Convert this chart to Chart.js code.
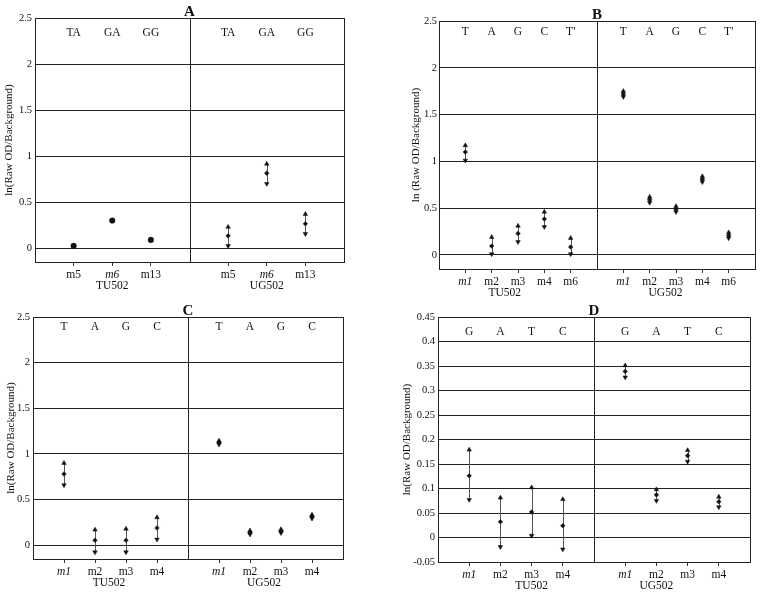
<!DOCTYPE html>
<html>
<head>
<meta charset="utf-8">
<script src="https://cdn.jsdelivr.net/npm/chart.js@4.4.0/dist/chart.umd.min.js"></script>
<style>
  body { margin: 0; background: #fff; width: 763px; height: 597px; position: relative; overflow: hidden; }
  canvas { position: absolute; }
</style>
</head>
<body>
<canvas id="cA" width="380" height="292" style="left:0;top:0"></canvas>
<canvas id="cB" width="383" height="299" style="left:380px;top:0"></canvas>
<canvas id="cC" width="380" height="302" style="left:0;top:295px"></canvas>
<canvas id="cD" width="383" height="302" style="left:380px;top:295px"></canvas>
<script>
// ---- data ----
const groups = ['TU502', 'UG502'];
const yTicksABC = [0, 0.5, 1, 1.5, 2, 2.5];
const yTicksD = [-0.05, 0, 0.05, 0.1, 0.15, 0.2, 0.25, 0.3, 0.35, 0.4, 0.45];

// A
const labelsA = ['m5', 'm6', 'm13'];
const lettersA = ['TA', 'GA', 'GG'];
const tuMeanA = [0.025, 0.30, 0.09];
const tuLowA = [null, null, null];
const tuHighA = [null, null, null];
const ugMeanA = [0.134, 0.815, 0.265];
const ugLowA = [0.025, 0.70, 0.155];
const ugHighA = [0.23, 0.915, 0.37];

// B
const labelsB = ['m1', 'm2', 'm3', 'm4', 'm6'];
const lettersB = ['T', 'A', 'G', 'C', "T'"];
const tuMeanB = [1.10, 0.095, 0.23, 0.385, 0.085];
const tuLowB = [1.01, 0.01, 0.14, 0.30, 0.01];
const tuHighB = [1.17, 0.19, 0.31, 0.46, 0.18];
const ugMeanB = [1.72, 0.59, 0.49, 0.81, 0.21];
const ugLowB = [1.69, 0.56, 0.46, 0.78, 0.18];
const ugHighB = [1.75, 0.62, 0.52, 0.84, 0.24];

// C
const labelsC = ['m1', 'm2', 'm3', 'm4'];
const lettersC = ['T', 'A', 'G', 'C'];
const tuMeanC = [0.78, 0.055, 0.055, 0.19];
const tuLowC = [0.66, -0.075, -0.075, 0.065];
const tuHighC = [0.90, 0.17, 0.18, 0.305];
const ugMeanC = [1.125, 0.14, 0.155, 0.314];
const ugLowC = [1.105, 0.12, 0.135, 0.294];
const ugHighC = [1.145, 0.16, 0.175, 0.334];

// D
const labelsD = ['m1', 'm2', 'm3', 'm4'];
const lettersD = ['G', 'A', 'T', 'C'];
const tuMeanD = [0.126, 0.032, 0.052, 0.024];
const tuLowD = [0.077, -0.019, 0.004, -0.024];
const tuHighD = [0.179, 0.081, 0.102, 0.078];
const ugMeanD = [0.339, 0.087, 0.167, 0.073];
const ugLowD = [0.327, 0.075, 0.155, 0.062];
const ugHighD = [0.351, 0.098, 0.178, 0.083];

const SERIF = "'Liberation Serif', 'Times New Roman', serif";
Chart.defaults.font.family = SERIF;
Chart.defaults.color = '#111';

// error bar stems, frame, divider and the extra text
const figurePlugin = {
  id: 'figure',
  beforeDatasetsDraw(chart) {
    const o = chart.options.plugins.figure;
    const { ctx, chartArea: a, scales: { x, y } } = chart;
    ctx.save();
    ctx.strokeStyle = '#555';
    ctx.lineWidth = 1;
    o.bars.forEach(b => {
      const px = Math.round(x.getPixelForValue(b.x)) + 0.5;
      ctx.beginPath();
      ctx.moveTo(px, y.getPixelForValue(b.lo));
      ctx.lineTo(px, y.getPixelForValue(b.hi));
      ctx.stroke();
    });
    // divider
    const dx = Math.round(x.getPixelForValue(o.divider)) + 0.5;
    ctx.strokeStyle = '#222';
    ctx.beginPath();
    ctx.moveTo(dx, a.top);
    ctx.lineTo(dx, a.bottom);
    ctx.stroke();
    // frame
    ctx.strokeRect(Math.round(a.left) + 0.5, Math.round(a.top) + 0.5,
      Math.round(a.right - a.left), Math.round(a.bottom - a.top));
    ctx.restore();
  },
  afterDraw(chart) {
    const o = chart.options.plugins.figure;
    const { ctx, chartArea: a, scales: { x } } = chart;
    ctx.save();
    ctx.fillStyle = '#111';
    ctx.textAlign = 'center';
    ctx.textBaseline = 'middle';
    ctx.font = 'bold 15px ' + SERIF;
    ctx.fillText(o.title, x.getPixelForValue(o.divider), a.top - 6);
    ctx.font = '11.5px ' + SERIF;
    o.letters.forEach(l => ctx.fillText(l.text, x.getPixelForValue(l.x), a.top + o.letterDy));
    o.groupX.forEach((gx, i) => ctx.fillText(groups[i], x.getPixelForValue(gx), a.bottom + 24));
    ctx.restore();
  }
};

function makePanel(id, p) {
  const n = p.labels.length;
  const pos = [];
  for (let i = 0; i < n; i++) pos.push(i + 1);
  for (let i = 0; i < n; i++) pos.push(n + 2 + i);
  const tickLabels = p.labels.concat(p.labels);
  const means = p.tuMean.concat(p.ugMean);
  const lows = p.tuLow.concat(p.ugLow);
  const highs = p.tuHigh.concat(p.ugHigh);
  const hasBar = lows.map(v => v !== null);

  const meanPts = pos.map((x, i) => ({ x, y: means[i] }));
  const lowPts = pos.map((x, i) => ({ x, y: lows[i] })).filter(d => d.y !== null);
  const highPts = pos.map((x, i) => ({ x, y: highs[i] })).filter(d => d.y !== null);
  const bars = pos.map((x, i) => ({ x, lo: lows[i], hi: highs[i] })).filter(d => d.lo !== null);
  const letters = pos.map((x, i) => ({ x, text: p.letters[i % n] }));

  new Chart(document.getElementById(id), {
    type: 'scatter',
    data: {
      datasets: [
        { data: highPts, pointStyle: 'triangle', pointRadius: 2.6, backgroundColor: '#111', borderColor: '#111', borderWidth: 0.5 },
        { data: lowPts, pointStyle: 'triangle', rotation: 180, pointRadius: 2.6, backgroundColor: '#111', borderColor: '#111', borderWidth: 0.5 },
        { data: meanPts,
          pointStyle: ctx => hasBar[ctx.dataIndex] ? 'rectRot' : 'circle',
          pointRadius: ctx => hasBar[ctx.dataIndex] ? 2.3 : 2.8,
          backgroundColor: '#111', borderColor: '#111', borderWidth: 0.5 }
      ]
    },
    options: {
      responsive: false,
      animation: false,
      events: [],
      layout: { padding: p.pad },
      plugins: {
        legend: { display: false },
        tooltip: { enabled: false },
        figure: { title: p.title, divider: n + 1, bars, letters, groupX: p.groupX, letterDy: p.letterDy }
      },
      scales: {
        x: {
          type: 'linear', min: 0, max: 2 * n + 2,
          afterBuildTicks: s => { s.ticks = pos.map(v => ({ value: v })); },
          afterFit: s => { s.height = p.xh; },
          grid: { drawOnChartArea: false, drawTicks: true, tickLength: 4, color: '#333' },
          border: { display: true, color: '#222' },
          ticks: {
            autoSkip: false, maxRotation: 0, padding: 2, color: '#111',
            callback: (v, i) => tickLabels[i],
            font: ctx => ({ family: SERIF, size: 11.5, style: tickLabels[ctx.index] === p.italic ? 'italic' : 'normal' })
          }
        },
        y: {
          min: p.yMin, max: p.yMax,
          afterBuildTicks: s => { s.ticks = p.yTicks.map(v => ({ value: v })); },
          afterFit: s => { s.width = p.yw; },
          grid: { color: '#222', drawTicks: false },
          border: { display: true, color: '#222' },
          ticks: { padding: p.yp, color: '#111', font: { size: 10.5 }, callback: v => String(Math.round(v * 100) / 100) },
          title: { display: true, text: p.yTitle, color: '#111', font: { size: 11 }, padding: 0 }
        }
      }
    },
    plugins: [figurePlugin]
  });
}

makePanel('cA', {
  title: 'A', labels: labelsA, letters: lettersA, italic: 'm6',
  tuMean: tuMeanA, tuLow: tuLowA, tuHigh: tuHighA, ugMean: ugMeanA, ugLow: ugLowA, ugHigh: ugHighA,
  yTicks: yTicksABC, yMin: -0.15, yMax: 2.5, yTitle: 'ln(Raw OD/Background)', groupX: [2, 6],
  pad: { left: 3, top: 18, right: 36, bottom: 0 }, yw: 32, yp: 3, xh: 30, letterDy: 15
});
makePanel('cB', {
  title: 'B', labels: labelsB, letters: lettersB, italic: 'm1',
  tuMean: tuMeanB, tuLow: tuLowB, tuHigh: tuHighB, ugMean: ugMeanB, ugLow: ugLowB, ugHigh: ugHighB,
  yTicks: yTicksABC, yMin: -0.15, yMax: 2.5, yTitle: 'ln (Raw OD/Background)', groupX: [2.5, 8.6],
  pad: { left: 30, top: 21, right: 8, bottom: 0 }, yw: 29, yp: 2, xh: 30, letterDy: 11
});
makePanel('cC', {
  title: 'C', labels: labelsC, letters: lettersC, italic: 'm1',
  tuMean: tuMeanC, tuLow: tuLowC, tuHigh: tuHighC, ugMean: ugMeanC, ugLow: ugLowC, ugHigh: ugHighC,
  yTicks: yTicksABC, yMin: -0.15, yMax: 2.5, yTitle: 'ln(Raw OD/Background)', groupX: [2.45, 7.45],
  pad: { left: 5, top: 22, right: 37, bottom: 0 }, yw: 28, yp: 3, xh: 38, letterDy: 10
});
makePanel('cD', {
  title: 'D', labels: labelsD, letters: lettersD, italic: 'm1',
  tuMean: tuMeanD, tuLow: tuLowD, tuHigh: tuHighD, ugMean: ugMeanD, ugLow: ugLowD, ugHigh: ugHighD,
  yTicks: yTicksD, yMin: -0.05, yMax: 0.45, yTitle: 'ln(Raw OD/Background)', groupX: [3, 7],
  pad: { left: 21, top: 22, right: 13, bottom: 0 }, yw: 37, yp: 3, xh: 35, letterDy: 15
});
</script>
</body>
</html>
